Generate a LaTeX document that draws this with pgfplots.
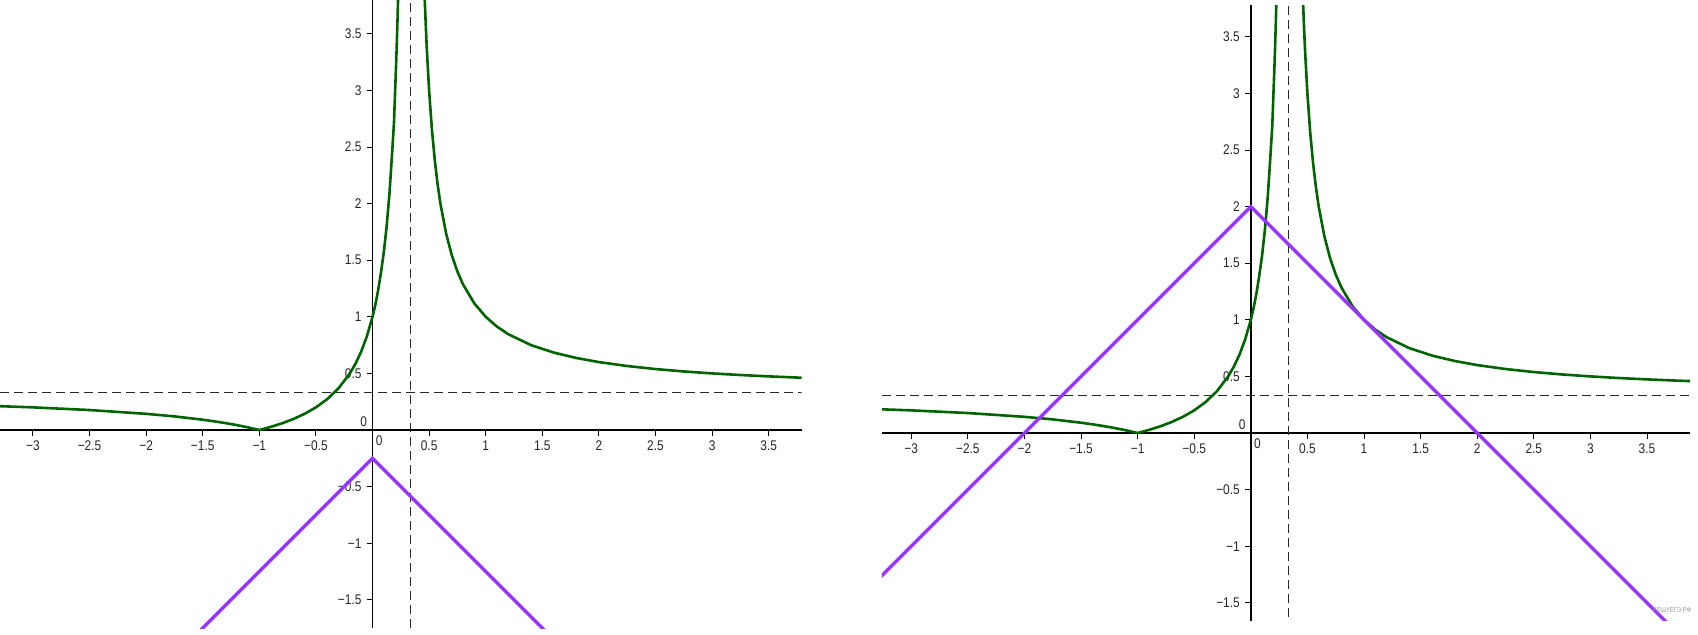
\documentclass[border=0pt]{standalone}
\usepackage{pgfplots}
\pgfplotsset{compat=1.18}
\usepackage{pgfplotstable}
\usepackage{fontspec}
\setmainfont{Liberation Sans}[FakeStretch=0.85]

\definecolor{ggreen}{RGB}{0,100,0}
\definecolor{gpurple}{RGB}{153,51,255}
\definecolor{gdash}{RGB}{40,40,40}

% y = |(x+1)/(3x-1)|, branch x < 1/3
\pgfplotstableread{
x y
-3.4 0.2143
-3.0 0.2000
-2.5 0.1765
-2.0 0.1429
-1.75 0.1203
-1.5 0.0909
-1.4 0.0769
-1.3 0.0612
-1.2 0.0435
-1.1 0.0233
-1.0 0.0000
-0.9 0.0270
-0.8 0.0588
-0.7 0.0968
-0.6 0.1429
-0.5 0.2000
-0.4 0.2727
-0.3 0.3684
-0.2 0.5000
-0.15 0.5862
-0.1 0.6923
-0.05 0.8261
0.0 1.0000
0.025 1.1053
0.05 1.2353
0.075 1.3913
0.1 1.5714
0.125 1.8000
0.15 2.0909
0.175 2.4737
0.19 2.7209
0.2 3.0000
0.21 3.2703
0.22 3.5882
0.23 3.9677
0.24 4.4286
0.25 5.0000
}\leftbranch

% branch x > 1/3
\pgfplotstableread{
x y
0.42 5.4615
0.43 4.9310
0.44 4.5000
0.45 4.1429
0.46 3.8421
0.47 3.5882
0.48 3.3636
0.5 3.0000
0.525 2.6522
0.55 2.3846
0.575 2.1724
0.6 2.0000
0.65 1.7368
0.7 1.5455
0.75 1.4000
0.8 1.2857
0.9 1.1176
1.0 1.0000
1.1 0.9130
1.2 0.8462
1.4 0.7500
1.6 0.6842
1.8 0.6364
2.0 0.6000
2.25 0.5652
2.5 0.5385
2.75 0.5172
3.0 0.5000
3.25 0.4857
3.5 0.4737
3.75 0.4634
3.95 0.4562
}\rightbranch

\pgfplotsset{ggaxis/.style={
  axis lines=middle,
  axis line style={-,black,line width=0.7pt},
  x=56.6pt, y=56.6pt, anchor=origin,
  major tick length=3pt, tick align=outside,
  major tick style={black, line width=0.5pt},
  tick label style={font=\fontsize{7}{8}\selectfont, text=black!85},
  xtick={-3,-2.5,-2,-1.5,-1,-0.5,0.5,1,1.5,2,2.5,3,3.5},
  xticklabels={−3,−2.5,−2,−1.5,−1,−0.5,0.5,1,1.5,2,2.5,3,3.5},
  ytick={-1.5,-1,-0.5,0.5,1,1.5,2,2.5,3,3.5},
  yticklabels={−1.5,−1,−0.5,0.5,1,1.5,2,2.5,3,3.5},
  xticklabel style={anchor=north, yshift=1pt},
  yticklabel style={anchor=east, xshift=1pt},
  clip=true,
}}

\begin{document}
\begin{tikzpicture}
% left panel
\begin{axis}[ggaxis, at={(186.25pt,102pt)},
  xmin=-3.29, xmax=3.79, ymin=-1.75, ymax=3.80]
\addplot[gdash, line width=0.6pt, dash pattern=on 4.5pt off 2.5pt] coordinates {(-3.29,0.3333) (4,0.3333)};
\addplot[gdash, line width=0.6pt, dash pattern=on 4.5pt off 2.5pt] coordinates {(0.3333,-2) (0.3333,4)};
\addplot[ggreen, line width=1.3pt] table[x=x,y=y] {\leftbranch};
\addplot[ggreen, line width=1.3pt] table[x=x,y=y] {\rightbranch};
\addplot[gpurple, line width=1.7pt] coordinates {(-3.5,-3.75) (0,-0.25) (3.5,-3.75)};
\node[anchor=north west, font=\fontsize{7}{8}\selectfont, text=black!85, inner sep=1.5pt, yshift=-1pt] at (axis cs:0,0) {0};
\node[anchor=south east, font=\fontsize{7}{8}\selectfont, text=black!85, inner sep=1.5pt, xshift=-1pt] at (axis cs:0,0) {0};
\end{axis}
% right panel
\begin{axis}[ggaxis, at={(625.4pt,100.5pt)},
  xmin=-3.26, xmax=3.88, ymin=-1.66, ymax=3.78]
\addplot[gdash, line width=0.6pt, dash pattern=on 4.5pt off 2.5pt] coordinates {(-3.26,0.3333) (4,0.3333)};
\addplot[gdash, line width=0.6pt, dash pattern=on 4.5pt off 2.5pt] coordinates {(0.3333,-2) (0.3333,4)};
\addplot[ggreen, line width=1.3pt] table[x=x,y=y] {\leftbranch};
\addplot[ggreen, line width=1.3pt] table[x=x,y=y] {\rightbranch};
\addplot[gpurple, line width=1.7pt] coordinates {(-4,-2) (0,2) (4,-2)};
\node[anchor=north west, font=\fontsize{7}{8}\selectfont, text=black!85, inner sep=1.5pt, yshift=-1pt] at (axis cs:0,0) {0};
\node[anchor=south east, font=\fontsize{7}{8}\selectfont, text=black!85, inner sep=1.5pt, xshift=-1pt] at (axis cs:0,0) {0};
\node[font=\fontsize{3.5}{4}\selectfont, text=black!40] at (axis cs:3.72,-1.56) {РЕШУЕГЭ.РФ};
\end{axis}
\pgfresetboundingbox
\path[use as bounding box] (0,0) rectangle (849pt,317pt);
\end{tikzpicture}
\end{document}
